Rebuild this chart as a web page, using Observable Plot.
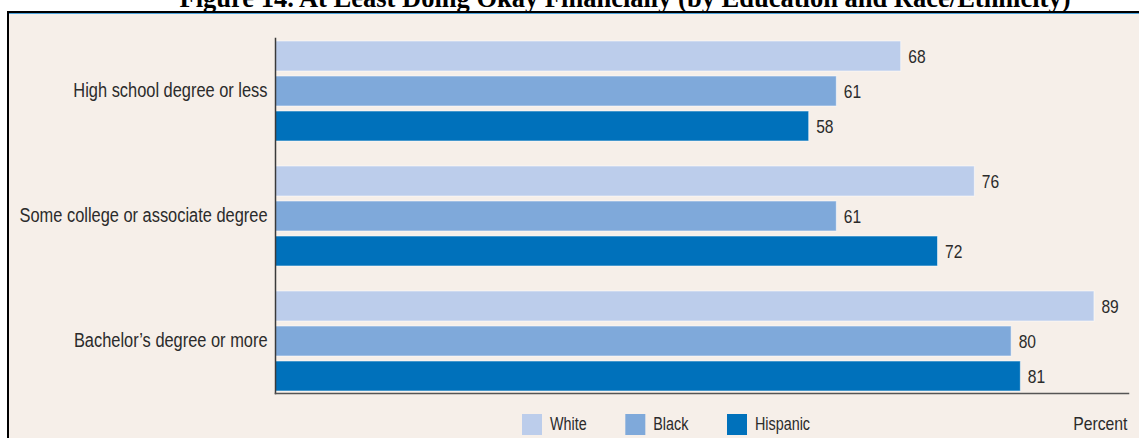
<!DOCTYPE html>
<html>
<head>
<meta charset="utf-8">
<script src="https://cdn.jsdelivr.net/npm/d3@7"></script>
<script src="https://cdn.jsdelivr.net/npm/@observablehq/plot@0.6"></script>
<style>
  html, body { margin: 0; padding: 0; background: #fff; width: 1139px; height: 438px; overflow: hidden; }
  #title { position: absolute; left: 0; width: 1250px; top: -15px; text-align: center; line-height: 26.5px;
           font-family: "Liberation Serif", "Times New Roman", serif; font-weight: bold; font-size: 26.5px; color: #000; white-space: nowrap; }
  #panel { position: absolute; left: 7px; top: 11px; width: 1132px; height: 427px; background: #f6efe9;
           border-top: 2px solid #000; border-left: 2px solid #000; box-sizing: border-box; }
  #blue { position: absolute; left: 9px; top: 13px; width: 1130px; height: 1px; background: #4fa3dc; }
  #chart { position: absolute; left: 0; top: 14px; }
  #legend { position: absolute; left: 522px; top: 414px; transform: scaleX(0.82); transform-origin: 0 0; }
  .lg-swatches { margin: 0 !important; font-family: "Liberation Sans", Arial, sans-serif !important; font-size: 17.5px !important; color: #2b2b2b; }
  .lg-swatches-wrap { min-height: 0 !important; flex-wrap: nowrap !important; }
  .lg-swatch { margin-right: 47px !important; }
  .lg-swatch > svg { margin-right: 9.8px !important; }
  #xlabel { position: absolute; right: 12px; top: 414px; line-height: 20px; font-family: "Liberation Sans", Arial, sans-serif; font-size: 19px; color: #2b2b2b;
            transform: scaleX(0.83); transform-origin: 100% 0; }
</style>
</head>
<body>
<div id="title">Figure 14. At Least Doing Okay Financially (by Education and Race/Ethnicity)</div>
<div id="panel"></div>
<div id="blue"></div>
<div id="chart"></div>
<div id="legend"></div>
<div id="xlabel">Percent</div>
<script>
const education = ["High school degree or less", "Some college or associate degree", "Bachelor’s degree or more"];
const races = ["White", "Black", "Hispanic"];
const whiteValues = [68, 76, 89];
const blackValues = [61, 61, 80];
const hispanicValues = [58, 72, 81];
const raceColors = ["#bccdeb", "#7fa9da", "#0071bb"];

const seriesValues = [whiteValues, blackValues, hispanicValues];
const data = [];
education.forEach((edu, i) => {
  races.forEach((race, j) => {
    data.push({edu, race, value: seriesValues[j][i]});
  });
});

const FONT = '"Liberation Sans", Arial, sans-serif';

const chart = Plot.plot({
  width: 1139,
  height: 424,
  marginLeft: 275,
  marginRight: 11,
  marginTop: 18,
  marginBottom: 31,
  style: {background: "transparent", fontFamily: FONT, fontSize: "20px", color: "#2b2b2b", overflow: "visible"},
  x: {domain: [0, 92.7], axis: null},
  y: {domain: races, axis: null, paddingInner: 0.143, paddingOuter: 0.0714},
  fy: {domain: education, axis: "left", paddingInner: 0.16, paddingOuter: 0.076, align: 0.29, tickSize: 0, tickPadding: 8, label: null},
  color: {domain: races, range: raceColors},
  marks: [
    Plot.barX(data, {x: "value", y: "race", fy: "edu", fill: "race", stroke: "#fff", strokeOpacity: 0.55, strokeWidth: 1}),
    Plot.text(data, {x: "value", y: "race", fy: "edu", text: d => String(d.value), textAnchor: "start", dx: 7, fill: "#2b2b2b", fontSize: 19}),
    Plot.frame({anchor: "left", facet: "super", stroke: "#3a3a3a", strokeWidth: 1.5}),
    Plot.frame({anchor: "bottom", facet: "super", stroke: "#555", strokeWidth: 1.5})
  ]
});
document.getElementById("chart").appendChild(chart);

// Condense the SVG text to mimic the narrow typeface of the original
chart.querySelectorAll("text").forEach(t => {
  const len = t.getComputedTextLength();
  if (len > 0) {
    t.setAttribute("textLength", (len * 0.82).toFixed(2));
    t.setAttribute("lengthAdjust", "spacingAndGlyphs");
  }
});

const legend = Plot.legend({
  color: {domain: races, range: raceColors},
  swatchWidth: 24.4,
  swatchHeight: 21,
  className: "lg"
});
document.getElementById("legend").appendChild(legend);
</script>
</body>
</html>
